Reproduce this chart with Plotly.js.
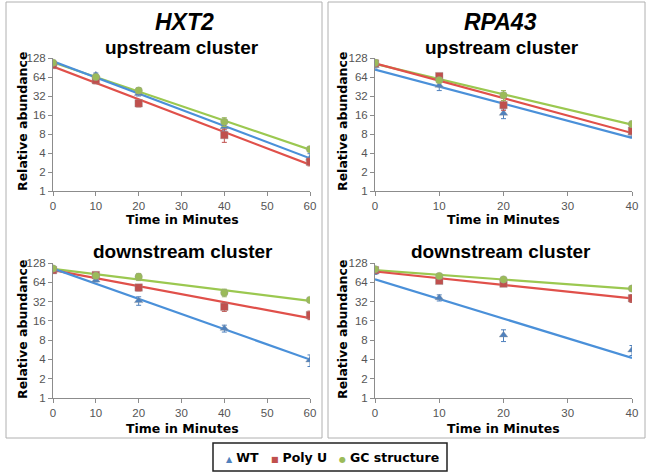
<!DOCTYPE html>
<html>
<head>
<meta charset="utf-8">
<script src="https://cdn.plot.ly/plotly-3.0.1.min.js"></script>
<style>
html,body{margin:0;padding:0;background:#fff;}
#chart{width:649px;height:473px;}
</style>
</head>
<body>
<div id="chart"></div>
<script>
// ---- data ----
const seriesNames = ["WT", "Poly U", "GC structure"];
const timesHXT2 = [0, 10, 20, 40, 60];
const timesRPA43 = [0, 10, 20, 40];

// HXT2 upstream cluster
const hxt2UpWT   = [105, 69, 35, 10.4, 3.3];
const hxt2UpPolyU = [99, 57, 24.5, 7.7, 2.9];
const hxt2UpGC   = [108, 64, 39, 12.5, 4.6];
const hxt2UpWTErr   = [8, 5, 3, 1.5, 0.6];
const hxt2UpPolyUErr = [6, 7, 3, 1.8, 0.4];
const hxt2UpGCErr   = [6, 4, 4, 2, 0.4];

// RPA43 upstream cluster
const rpa43UpWT    = [97, 47, 17, 8.2];
const rpa43UpPolyU = [105, 66, 23, 9];
const rpa43UpGC    = [108, 57, 33, 11.5];
const rpa43UpWTErr    = [8, 8, 3, 1];
const rpa43UpPolyUErr = [6, 5, 4, 1.2];
const rpa43UpGCErr    = [12, 5, 6, 1.2];

// HXT2 downstream cluster
const hxt2DnWT    = [97, 69, 33, 12.2, 3.9];
const hxt2DnPolyU = [99, 83, 53, 26.5, 19.7];
const hxt2DnGC    = [105, 81, 78, 44, 34];
const hxt2DnWTErr    = [8, 4, 5, 1.5, 0.8];
const hxt2DnPolyUErr = [8, 6, 6, 4, 3];
const hxt2DnGCErr    = [8, 6, 10, 6, 2];

// RPA43 downstream cluster
const rpa43DnWT    = [93, 36.7, 9.6, 5.6];
const rpa43DnPolyU = [99, 67.5, 61, 36];
const rpa43DnGC    = [102, 80, 71, 51];
const rpa43DnWTErr    = [8, 4, 2, 1];
const rpa43DnPolyUErr = [8, 6, 6, 5];
const rpa43DnGCErr    = [8, 6, 5, 4];

const yTickVals = [1, 2, 4, 8, 16, 32, 64, 128];
const xTicksHXT2 = [0, 10, 20, 30, 40, 50, 60];
const xTicksRPA43 = [0, 10, 20, 30, 40];

// ---- styles ----
const markerColors = ["#4F81BD", "#C0504D", "#9BBB59"];
const lineColors = ["#4A90D9", "#E0504A", "#9BC850"];
const symbols = ["triangle-up", "square", "circle"];
const legendGlyphs = ["\u25B2", "\u25A0", "\u25CF"];

const W = 649, H = 473;
const px = v => v / W;
const py = v => 1 - v / H;

function fitLine(xs, ys) {
  const n = xs.length;
  const ly = ys.map(v => Math.log(v));
  const mx = xs.reduce((a, b) => a + b, 0) / n;
  const my = ly.reduce((a, b) => a + b, 0) / n;
  let sxy = 0, sxx = 0;
  for (let i = 0; i < n; i++) { sxy += (xs[i] - mx) * (ly[i] - my); sxx += (xs[i] - mx) ** 2; }
  const b = sxy / sxx, a = my - b * mx;
  const x0 = xs[0], x1 = xs[n - 1];
  return { x: [x0, x1], y: [Math.exp(a + b * x0), Math.exp(a + b * x1)] };
}

const panels = [
  { xs: timesHXT2, data: [hxt2UpWT, hxt2UpPolyU, hxt2UpGC], err: [hxt2UpWTErr, hxt2UpPolyUErr, hxt2UpGCErr], xa: "x", ya: "y" },
  { xs: timesRPA43, data: [rpa43UpWT, rpa43UpPolyU, rpa43UpGC], err: [rpa43UpWTErr, rpa43UpPolyUErr, rpa43UpGCErr], xa: "x2", ya: "y2" },
  { xs: timesHXT2, data: [hxt2DnWT, hxt2DnPolyU, hxt2DnGC], err: [hxt2DnWTErr, hxt2DnPolyUErr, hxt2DnGCErr], xa: "x3", ya: "y3" },
  { xs: timesRPA43, data: [rpa43DnWT, rpa43DnPolyU, rpa43DnGC], err: [rpa43DnWTErr, rpa43DnPolyUErr, rpa43DnGCErr], xa: "x4", ya: "y4" }
];

const traces = [];
panels.forEach((p, pi) => {
  [2, 1, 0].forEach(s => {
    const f = fitLine(p.xs, p.data[s]);
    traces.push({
      type: "scatter", mode: "lines", x: f.x, y: f.y, xaxis: p.xa, yaxis: p.ya,
      line: { color: lineColors[s], width: 2.2 }, showlegend: false, hoverinfo: "skip"
    });
  });
  [0, 1, 2].forEach(s => {
    traces.push({
      type: "scatter", mode: "markers", x: p.xs, y: p.data[s], xaxis: p.xa, yaxis: p.ya,
      name: seriesNames[s], showlegend: false,
      marker: { symbol: symbols[s], color: markerColors[s], size: 7.5, line: { width: 0.6, color: "rgba(150,150,150,0.6)" } },
      error_y: { type: "data", array: p.err[s], visible: true, color: markerColors[s], thickness: 1, width: 2.5 }
    });
  });
});

const tickFont = { family: "Liberation Sans, Arial, sans-serif", size: 11.5, color: "#555" };
function xAxis(domain, range, ticks, anchor) {
  return {
    domain: domain, range: range, tickvals: ticks, ticktext: ticks.map(String), anchor: anchor,
    showgrid: false, zeroline: false, showline: true, linecolor: "#8c8c8c", linewidth: 1,
    ticks: "outside", ticklen: 4, tickcolor: "#8c8c8c", tickfont: tickFont, fixedrange: true
  };
}
function yAxis(domain, anchor) {
  return {
    domain: domain, type: "log", range: [0, Math.log10(128)], tickvals: yTickVals, ticktext: yTickVals.map(String),
    anchor: anchor, showgrid: false, zeroline: false, showline: true, linecolor: "#8c8c8c", linewidth: 1,
    ticks: "outside", ticklen: 4, tickcolor: "#8c8c8c", tickfont: tickFont, fixedrange: true
  };
}

const xLeft = [px(53), px(310)];
const xRight = [px(375), px(632)];
const yTop = [py(191), py(58)];
const yBot = [py(398), py(263)];

const geneFont = { family: "Liberation Sans, Arial, sans-serif", size: 23, color: "#000" };
const subFont = { family: "Liberation Sans, Arial, sans-serif", size: 19, color: "#000" };
const axFont = { family: "DejaVu Sans, Verdana, sans-serif", size: 12.5, color: "#000" };
const legFont = { family: "DejaVu Sans, Verdana, sans-serif", size: 12.5, color: "#000" };

function ann(text, x, y, font, angle, xanchor) {
  return { text: text, x: px(x), y: py(y), xref: "paper", yref: "paper", showarrow: false,
    xanchor: xanchor || "center", yanchor: "middle", font: font, textangle: angle || 0 };
}

const annotations = [
  ann("<b><i>HXT2</i></b>", 184, 22, geneFont),
  ann("<b>upstream cluster</b>", 182, 47, subFont),
  ann("<b><i>RPA43</i></b>", 500, 22, geneFont),
  ann("<b>upstream cluster</b>", 502, 47, subFont),
  ann("<b>downstream cluster</b>", 183, 251, subFont),
  ann("<b>downstream cluster</b>", 501, 251, subFont),
  ann("<b>Time in Minutes</b>", 183, 220, axFont),
  ann("<b>Time in Minutes</b>", 503, 220, axFont),
  ann("<b>Time in Minutes</b>", 183, 428, axFont),
  ann("<b>Time in Minutes</b>", 503, 428, axFont),
  ann("<b>Relative abundance</b>", 22, 122, axFont, -90),
  ann("<b>Relative abundance</b>", 342, 122, axFont, -90),
  ann("<b>Relative abundance</b>", 22, 330, axFont, -90),
  ann("<b>Relative abundance</b>", 342, 330, axFont, -90)
];

// custom legend entries (glyph + label)
const legX = [229, 274, 342];
seriesNames.forEach((name, i) => {
  annotations.push({
    text: "<span style='color:" + markerColors[i] + ";font-size:8px'>" + legendGlyphs[i] + "</span> <b>" + name + "</b>",
    x: px(legX[i] - 5), y: py(457), xref: "paper", yref: "paper", showarrow: false,
    xanchor: "left", yanchor: "middle", font: legFont
  });
});

const shapes = [
  { type: "rect", xref: "paper", yref: "paper", x0: px(6), x1: px(322), y0: py(438), y1: py(2), line: { color: "#b0b0b0", width: 1 } },
  { type: "rect", xref: "paper", yref: "paper", x0: px(328), x1: px(645), y0: py(438), y1: py(2), line: { color: "#b0b0b0", width: 1 } },
  { type: "rect", xref: "paper", yref: "paper", x0: px(213), x1: px(447), y0: py(471), y1: py(443), line: { color: "#222", width: 1.5 }, fillcolor: "#fff" }
];

const layout = {
  width: W, height: H, margin: { l: 0, r: 0, t: 0, b: 0 },
  paper_bgcolor: "#fff", plot_bgcolor: "rgba(0,0,0,0)",
  showlegend: false,
  xaxis: xAxis(xLeft, [0, 60], xTicksHXT2, "y"),
  yaxis: yAxis(yTop, "x"),
  xaxis2: xAxis(xRight, [0, 40], xTicksRPA43, "y2"),
  yaxis2: yAxis(yTop, "x2"),
  xaxis3: xAxis(xLeft, [0, 60], xTicksHXT2, "y3"),
  yaxis3: yAxis(yBot, "x3"),
  xaxis4: xAxis(xRight, [0, 40], xTicksRPA43, "y4"),
  yaxis4: yAxis(yBot, "x4"),
  annotations: annotations,
  shapes: shapes
};

Plotly.newPlot("chart", traces, layout, { displayModeBar: false, staticPlot: true });
</script>
</body>
</html>
